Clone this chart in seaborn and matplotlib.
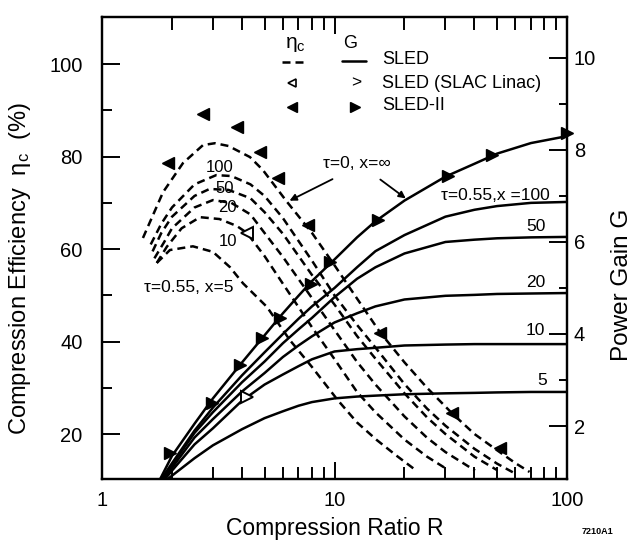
import numpy as np
import pandas as pd
import matplotlib.pyplot as plt
import matplotlib as mpl
from matplotlib.lines import Line2D
import seaborn as sns

sns.set()
sns.set_context("notebook")
sns.set_style("white")
plt.rcParams['font.family'] = ['Liberation Sans', 'DejaVu Sans']
mpl.rcParams['mathtext.fontset'] = 'custom'
mpl.rcParams['mathtext.rm'] = 'Liberation Sans'
mpl.rcParams['mathtext.it'] = 'Liberation Sans'
for key in ('text.color', 'axes.labelcolor', 'xtick.color', 'ytick.color'):
    mpl.rcParams[key] = 'black'

# ---- compression efficiency (dashed), left axis ----
R_eta_inf = [1.5, 1.83, 2.23, 2.72, 3.06, 3.5, 4.33, 4.92, 6.25, 8, 10, 12.5, 15.7, 20, 25, 32, 40, 50, 60, 69]
eta_inf = [62.4, 72.3, 78.6, 82.5, 82.9, 82.3, 79.9, 77.1, 70.2, 63.5, 56.5, 49.3, 42.0, 35.5, 30.0, 24.5, 20.0, 16.5, 13.7, 11.8]

R_eta_100 = [1.62, 1.8, 2.0, 2.5, 3.1, 3.6, 4.35, 5, 6, 8, 10, 12.5, 15, 20, 25, 30, 40, 50, 58.6]
eta_100 = [61.0, 65.5, 69.0, 74.0, 76.0, 75.8, 74.0, 71.5, 66.7, 57.5, 50.0, 43.6, 38.7, 30.8, 25.5, 21.8, 16.8, 13.6, 11.7]

R_eta_50 = [1.65, 1.8, 2.0, 2.5, 2.9, 3.5, 4.35, 5, 6, 8, 10, 12.5, 15, 20, 25, 30, 40, 50]
eta_50 = [59.5, 63.5, 67.0, 71.5, 73.0, 72.8, 71.0, 68.0, 63.3, 54.4, 48.0, 41.2, 36.3, 28.8, 23.6, 20.0, 15.1, 12.2]

R_eta_20 = [1.68, 1.85, 2.0, 2.5, 3.0, 3.6, 4.35, 5, 6, 8, 10, 12.5, 15, 20, 25, 30, 40.2]
eta_20 = [58.0, 61.5, 64.5, 69.0, 70.6, 70.0, 67.5, 63.5, 58.3, 49.4, 42.5, 35.6, 30.7, 23.8, 19.2, 16.1, 12.1]

R_eta_10 = [1.72, 1.9, 2.2, 2.64, 3.2, 3.8, 4.2, 5, 6, 8, 10, 12.5, 15, 20, 25, 30]
eta_10 = [57.0, 60.5, 64.5, 66.9, 66.5, 65.0, 63.5, 58.5, 52.5, 43.1, 36.2, 29.1, 24.7, 18.8, 15.1, 12.6]

R_eta_5 = [1.72, 1.96, 2.46, 3.0, 3.55, 4.04, 5.12, 6.43, 8, 10.3, 12.5, 15.2, 18.5, 22.6]
eta_5 = [57.0, 59.8, 60.6, 59.4, 56.1, 52.6, 47.5, 40.3, 34.5, 27.4, 22.5, 18.7, 15.3, 12.0]

# ---- power gain (solid), right axis ----
R_G = [2, 2.5, 3, 4, 5, 6, 7, 8, 10, 12.5, 15, 20, 30, 40, 50, 70, 100]
G_inf = [1.35, 2.05, 2.6, 3.38, 3.97, 4.45, 4.83, 5.15, 5.62, 6.1, 6.45, 6.9, 7.42, 7.7, 7.92, 8.15, 8.3]
G_100 = [1.19, 1.9, 2.4, 3.1, 3.6, 4.0, 4.33, 4.6, 5.0, 5.45, 5.8, 6.15, 6.55, 6.7, 6.78, 6.85, 6.87]
G_50 = [1.15, 1.85, 2.3, 2.95, 3.4, 3.8, 4.1, 4.35, 4.8, 5.2, 5.45, 5.75, 6.0, 6.05, 6.08, 6.1, 6.11]
G_20 = [1.09, 1.75, 2.15, 2.75, 3.15, 3.5, 3.75, 3.95, 4.25, 4.45, 4.6, 4.75, 4.83, 4.85, 4.87, 4.88, 4.89]
G_10 = [1.03, 1.6, 1.95, 2.55, 2.9, 3.12, 3.3, 3.45, 3.62, 3.67, 3.7, 3.75, 3.77, 3.78, 3.78, 3.78, 3.78]
G_5 = [0.92, 1.3, 1.58, 1.93, 2.17, 2.32, 2.44, 2.52, 2.6, 2.64, 2.66, 2.69, 2.71, 2.72, 2.73, 2.74, 2.74]
R_G_start = [1.78, 1.8, 1.82, 1.84, 1.87, 1.92]
G_floor = 0.85

# ---- measured points ----
R_sled2_eta = [1.92, 2.72, 3.81, 4.78, 5.71, 7.69, 15.7, 32.0, 51.5]
sled2_eta = [78.6, 89.2, 86.4, 81.0, 75.4, 65.2, 41.8, 24.5, 17.0]
R_sled2_G = [1.96, 2.97, 3.92, 4.88, 5.83, 7.92, 9.55, 15.4, 30.8, 47.6, 100]
sled2_G = [1.41, 2.5, 3.33, 3.91, 4.35, 5.09, 5.57, 6.48, 7.43, 7.89, 8.37]
R_slac = [4.2]
slac_eta = [63.5]
slac_G = [2.63]

W, H = 633, 544
fig = plt.figure(figsize=(W / 100, H / 100), dpi=100)
ax = fig.add_axes([102 / W, 1 - 479 / H, (567 - 102) / W, (479 - 17) / H])
ax.set_xscale('log')
ax2 = ax.twinx()

LW = 1.8
dashed = [(R_eta_inf, eta_inf), (R_eta_100, eta_100), (R_eta_50, eta_50),
          (R_eta_20, eta_20), (R_eta_10, eta_10), (R_eta_5, eta_5)]
for r, e in dashed:
    sns.lineplot(x=r, y=e, ax=ax, color='black', lw=LW, linestyle='--')
    ax.lines[-1].set_dashes([3.2, 2.0])

solid = [G_inf, G_100, G_50, G_20, G_10, G_5]
for r0, g in zip(R_G_start, solid):
    df = pd.DataFrame({'R': [r0] + R_G, 'G': [G_floor] + g})
    sns.lineplot(data=df, x='R', y='G', ax=ax2, color='black', lw=LW)

ax.plot(R_sled2_eta, sled2_eta, ls='none', marker='<', ms=8, color='black', clip_on=False)
ax2.plot(R_sled2_G, sled2_G, ls='none', marker='>', ms=8, color='black', clip_on=False)
ax.plot(R_slac, slac_eta, ls='none', marker='<', ms=8, mfc='white', mec='black', mew=1.4)
ax2.plot(R_slac, slac_G, ls='none', marker='>', ms=8, mfc='white', mec='black', mew=1.4)

ax.set_xlim(1, 100)
ax.set_ylim(10.27, 110.2)
ax2.set_ylim(0.848, 10.89)

ax.set_xticks([1, 10, 100])
ax.set_xticklabels(['1', '10', '100'])
ax.set_yticks([20, 40, 60, 80, 100])
ax.set_yticks([30, 50, 70, 90], minor=True)
ax2.set_yticks([2, 4, 6, 8, 10])
ax2.set_yticks([3, 5, 7, 9], minor=True)

for a in (ax, ax2):
    for s in a.spines.values():
        s.set_linewidth(1.6)
        s.set_color('black')
ax.tick_params(axis='x', which='both', direction='in', top=True, bottom=True,
               width=1.4, color='black', labelsize=14.5, pad=9)
ax.tick_params(axis='x', which='major', length=12)
ax.tick_params(axis='x', which='minor', length=9)
ax.tick_params(axis='y', which='both', direction='in', width=1.4, labelsize=14.5, pad=14, left=True)
ax.tick_params(axis='y', which='major', length=13)
ax.tick_params(axis='y', which='minor', length=7)
ax2.tick_params(axis='y', which='both', direction='in', width=1.4, labelsize=14.5, pad=5, right=True)
ax2.tick_params(axis='y', which='major', length=13)
ax2.tick_params(axis='y', which='minor', length=6)

ax.set_xlabel('Compression Ratio R', fontsize=16.5)
ax.set_ylabel(r'Compression Efficiency  $\eta_{\rm c}$  (%)', fontsize=17)
ax2.set_ylabel('Power Gain G', fontsize=17.5)
ax.xaxis.set_label_coords(0.501, -0.083)
ax.yaxis.set_label_coords(-0.148, 0.455)
ax2.yaxis.set_label_coords(1.095, 0.42)

# curve annotations
ann = dict(fontsize=12, color='black', ha='center', va='center')
ax.text(3.22, 77.7, '100', **ann)
ax.text(3.38, 73.2, '50', **ann)
ax.text(3.45, 68.9, '20', **ann)
ax.text(3.48, 61.7, '10', **ann)
ax.text(2.37, 51.6, 'τ=0.55, x=5', fontsize=12.5, color='black', ha='center', va='center')
ax.text(12.5, 78.6, 'τ=0, x=∞', fontsize=12.5, color='black', ha='center', va='center')
arw = dict(arrowstyle='-|>', color='black', lw=1.3, mutation_scale=10)
ax.annotate('', xy=(6.25, 70.2), xytext=(10.05, 75.4), arrowprops=arw)
ax.annotate('', xy=(20.7, 70.6), xytext=(15.4, 75.4), arrowprops=arw)

rann = dict(fontsize=12.5, color='black', ha='right', va='center')
ax2.text(84.5, 7.0, 'τ=0.55,x =100', **rann)
ax2.text(80.6, 6.33, '50', **rann)
ax2.text(80.6, 5.11, '20', **rann)
ax2.text(80.6, 4.07, '10', **rann)
ax2.text(82.0, 2.98, '5', **rann)

# legend drawn by hand
def fx(p):
    return p / W

def fy(p):
    return 1 - p / H

fig.text(fx(295), fy(45), r'$\eta_{\rm c}$', fontsize=15, ha='center', va='center')
fig.text(fx(350), fy(43), 'G', fontsize=13, ha='center', va='center')
fig.add_artist(Line2D([fx(282), fx(304)], [fy(62), fy(62)], color='black', lw=LW,
                      ls=(0, (3.2, 2.0))))
fig.add_artist(Line2D([fx(342), fx(366)], [fy(61), fy(61)], color='black', lw=LW))
fig.add_artist(Line2D([fx(292)], [fy(83)], marker='<', ms=6, mfc='white', mec='black', mew=1.2, ls='none'))
fig.text(fx(356), fy(83), '>', fontsize=12.5, ha='center', va='center')
fig.add_artist(Line2D([fx(292)], [fy(107)], marker='<', ms=7, color='black', ls='none'))
fig.add_artist(Line2D([fx(355)], [fy(107)], marker='>', ms=7, color='black', ls='none'))
fig.text(fx(382), fy(60), 'SLED', fontsize=13, ha='left', va='center')
fig.text(fx(382), fy(83), 'SLED (SLAC Linac)', fontsize=13, ha='left', va='center')
fig.text(fx(382), fy(106), 'SLED-II', fontsize=13, ha='left', va='center')

fig.text(fx(598), fy(531), '7210A1', fontsize=6.5, fontweight='bold', ha='center', va='center')

fig.savefig('out.png', dpi=100)
